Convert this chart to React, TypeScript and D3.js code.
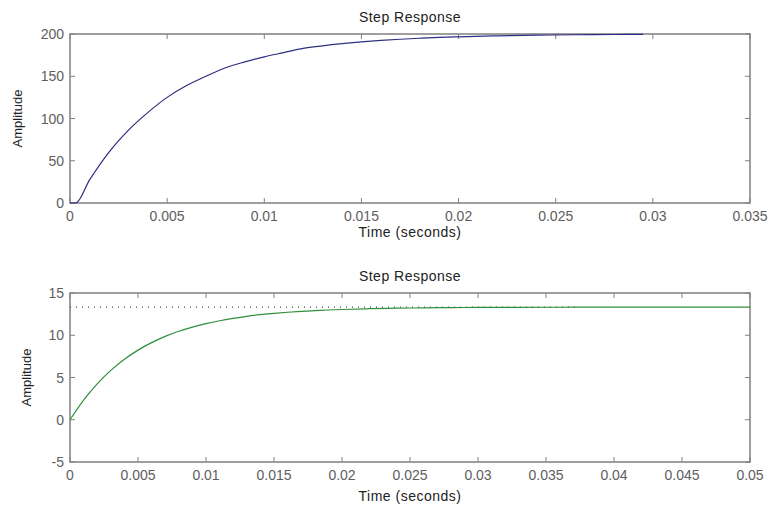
import React from "react";
import * as d3 from "d3";

// Top response (time in seconds, amplitude)
const topTime = [0, 0.0003, 0.001, 0.002, 0.003, 0.004, 0.005, 0.006, 0.007, 0.008, 0.009, 0.010, 0.011, 0.012, 0.013, 0.014, 0.015, 0.016, 0.017, 0.018, 0.019, 0.020, 0.022, 0.024, 0.026, 0.028, 0.0295];
const topAmp = [0, 0, 27, 60, 86, 107, 125, 139, 150, 160, 167, 173, 178, 183, 186, 188.5, 190.6, 192.4, 193.8, 195, 196, 196.7, 197.8, 198.6, 199.1, 199.4, 199.6];

// Bottom response
const botTime = [0, 0.001, 0.002, 0.003, 0.004, 0.005, 0.006, 0.007, 0.008, 0.009, 0.010, 0.011, 0.012, 0.013, 0.014, 0.015, 0.016, 0.017, 0.018, 0.019, 0.020, 0.022, 0.024, 0.026, 0.028, 0.030, 0.033, 0.0375, 0.040, 0.045, 0.050];
const botAmp = [0, 2.33, 4.25, 5.84, 7.16, 8.24, 9.13, 9.87, 10.47, 10.97, 11.38, 11.72, 12.0, 12.24, 12.43, 12.58, 12.72, 12.83, 12.91, 12.99, 13.05, 13.14, 13.2, 13.24, 13.27, 13.29, 13.31, 13.32, 13.33, 13.33, 13.33];
const botFinal = 13.33;
const botFinalEnd = 0.0374;

const topXTicks = [0, 0.005, 0.01, 0.015, 0.02, 0.025, 0.03, 0.035];
const topYTicks = [0, 50, 100, 150, 200];
const botXTicks = [0, 0.005, 0.01, 0.015, 0.02, 0.025, 0.03, 0.035, 0.04, 0.045, 0.05];
const botYTicks = [-5, 0, 5, 10, 15];

const AXIS = "#808080";
const TXT = "#5e5e5e";
const FONT = "Liberation Sans, Arial, sans-serif";

function fmt(v: number) {
  return String(+v.toFixed(4));
}

type PanelProps = {
  top: number;
  bottom: number;
  xDomain: [number, number];
  yDomain: [number, number];
  xTicks: number[];
  yTicks: number[];
  times: number[];
  amps: number[];
  color: string;
  titleY: number;
  tickLabelY: number;
  xLabelY: number;
  yLabelX: number;
  final?: number;
  finalEnd?: number;
};

function Panel(p: PanelProps) {
  const left = 70, right = 750;
  const x = d3.scaleLinear().domain(p.xDomain).range([left, right]);
  const y = d3.scaleLinear().domain(p.yDomain).range([p.bottom, p.top]);
  const line = d3.line<number>().x((_, i) => x(p.times[i])).y((d) => y(d)).curve(d3.curveMonotoneX);
  const tl = 5;
  return (
    <g>
      <rect x={left} y={p.top} width={right - left} height={p.bottom - p.top} fill="white" stroke={AXIS} strokeWidth={1.5} />
      {p.xTicks.map((t) => (
        <g key={"x" + t}>
          <line x1={x(t)} x2={x(t)} y1={p.bottom} y2={p.bottom - tl} stroke={AXIS} />
          <line x1={x(t)} x2={x(t)} y1={p.top} y2={p.top + tl} stroke={AXIS} />
          <text x={x(t)} y={p.tickLabelY} textAnchor="middle" fontSize={14} fill={TXT} fontFamily={FONT}>{fmt(t)}</text>
        </g>
      ))}
      {p.yTicks.map((t) => (
        <g key={"y" + t}>
          <line x1={left} x2={left + tl} y1={y(t)} y2={y(t)} stroke={AXIS} />
          <line x1={right} x2={right - tl} y1={y(t)} y2={y(t)} stroke={AXIS} />
          <text x={left - 6} y={y(t) + 5} textAnchor="end" fontSize={14} fill={TXT} fontFamily={FONT}>{fmt(t)}</text>
        </g>
      ))}
      {p.final !== undefined && (
        <line x1={x(0)} x2={x(p.finalEnd!)} y1={y(p.final)} y2={y(p.final)} stroke="#222" strokeWidth={1} strokeDasharray="1,5" />
      )}
      <path d={line(p.amps) || ""} fill="none" stroke={p.color} strokeWidth={1.2} />
      <text x={(left + right) / 2} y={p.titleY} textAnchor="middle" fontSize={14} letterSpacing={0.5} fill="#222" fontFamily={FONT}>Step Response</text>
      <text x={(left + right) / 2} y={p.xLabelY} textAnchor="middle" fontSize={14} letterSpacing={0.5} fill="#222" fontFamily={FONT}>Time (seconds)</text>
      <text transform={`translate(${p.yLabelX},${(p.top + p.bottom) / 2}) rotate(-90)`} textAnchor="middle" fontSize={13} fill="#222" fontFamily={FONT}>Amplitude</text>
    </g>
  );
}

export default function App() {
  return (
    <svg width={768} height={506} style={{ position: "absolute", left: 0, top: 0, background: "white" }}>
      <rect width={768} height={506} fill="white" />
      <Panel top={34} bottom={203} xDomain={[0, 0.035]} yDomain={[0, 200]} xTicks={topXTicks} yTicks={topYTicks}
        times={topTime} amps={topAmp} color="#2e2e80" titleY={22} tickLabelY={221} xLabelY={237} yLabelX={22} />
      <Panel top={293} bottom={462} xDomain={[0, 0.05]} yDomain={[-5, 15]} xTicks={botXTicks} yTicks={botYTicks}
        times={botTime} amps={botAmp} color="#2f8f3a" titleY={281} tickLabelY={480} xLabelY={501} yLabelX={31}
        final={botFinal} finalEnd={botFinalEnd} />
    </svg>
  );
}
